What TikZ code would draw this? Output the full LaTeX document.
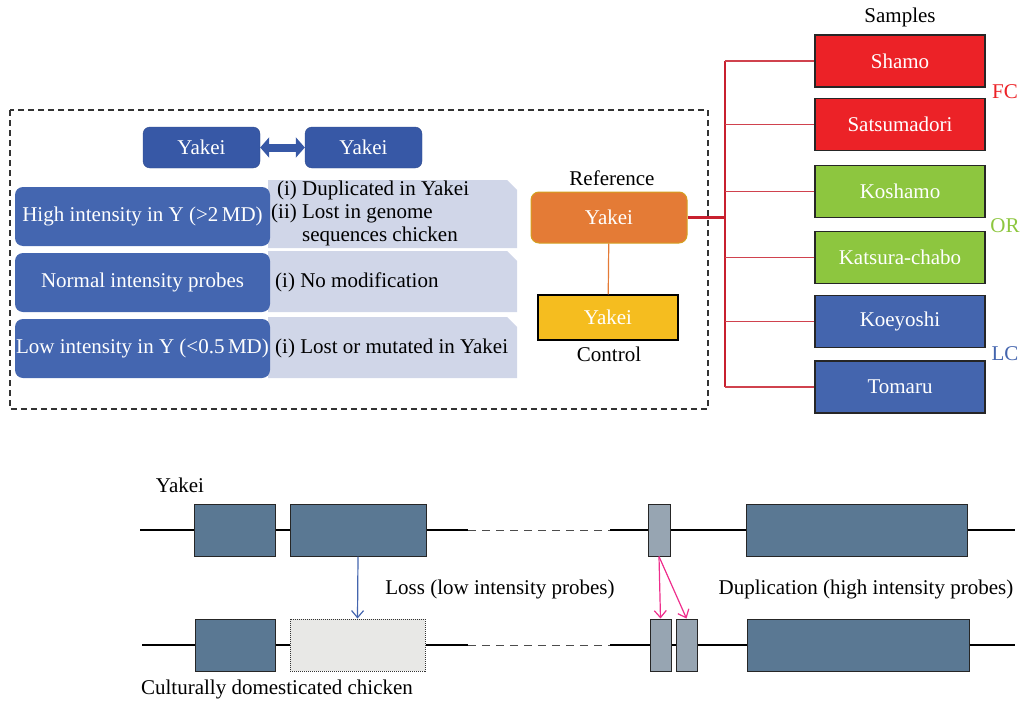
\documentclass[tikz,border=0pt]{standalone}
\usepackage{fontspec}
\setmainfont{Liberation Serif}
\usepackage{xcolor}
\usetikzlibrary{arrows.meta}

\definecolor{yakeiblue}{HTML}{3758A6}
\definecolor{rowblue}{HTML}{4466B0}
\definecolor{notegray}{HTML}{D0D6E8}
\definecolor{refornage}{HTML}{E47B36}
\definecolor{refborder}{HTML}{D4A020}
\definecolor{ctlyellow}{HTML}{F5BD1F}
\definecolor{fcred}{HTML}{EC2227}
\definecolor{orgreen}{HTML}{8DC63F}
\definecolor{lcblue}{HTML}{4465AE}
\definecolor{treered}{HTML}{C8202F}
\definecolor{genecol}{HTML}{5A7893}
\definecolor{smallgene}{HTML}{97A5B2}
\definecolor{lostgene}{HTML}{E8E8E6}
\definecolor{dupink}{HTML}{EE2E8C}

\begin{document}
\begin{tikzpicture}[x=1pt,y=-1pt, font=\fontsize{21}{23}\selectfont,
  yakeibox/.style={rounded corners=7pt, fill=yakeiblue, draw=yakeiblue!85!black, text=white,
    minimum width=117pt, minimum height=41pt, inner sep=0pt},
  rowbox/.style={rounded corners=8pt, fill=rowblue, text=white,
    minimum width=255pt, minimum height=59pt, inner sep=0pt},
  sample/.style={draw=black!85, line width=1.5pt, text=white,
    minimum width=170pt, minimum height=52pt, inner sep=0pt},
  gene/.style={draw=black!85, line width=1pt, fill=genecol, minimum height=52pt, inner sep=0pt},
  strand/.style={line width=2pt, black},
  gap/.style={line width=1pt, black!70, dash pattern=on 8pt off 6pt},
  branch/.style={line width=1.5pt, treered!85!white}]
\useasboundingbox (0,0) rectangle (1020,701);

% frame round the probe classes
\draw[line width=1.2pt, black!80, dash pattern=on 6pt off 4pt] (10,110) rectangle (708,409);

\node[yakeibox] (yk1) at (201.5,147.5) {Yakei};
\node[yakeibox] (yk2) at (363.5,147.5) {Yakei};
\draw[{Triangle[width=20pt,length=9pt]}-{Triangle[width=20pt,length=9pt]}, line width=8pt, yakeiblue]
  (yk1) -- (yk2);

% notes behind the classes
\fill[notegray] (268,180) -- (507,180) -- (517,190) -- (517,248) -- (268,248) -- cycle;
\fill[notegray] (268,251) -- (507,251) -- (517,261) -- (517,312) -- (268,312) -- cycle;
\fill[notegray] (268,317) -- (507,317) -- (517,327) -- (517,378) -- (268,378) -- cycle;

\node[rowbox] (high) at (142.5,216.5) {High intensity in Y (>2\,MD)};
\node[rowbox] (norm) at (142.5,282.5) {Normal intensity probes};
\node[rowbox] (low) at (142.5,348.5) {Low intensity in Y (<0.5\,MD)};

\node[anchor=west, inner sep=0pt, align=left] (n1) at (271,214)
  {\begin{tabular}{@{}r@{ }l@{}}(i)&Duplicated in Yakei\\(ii)&Lost in genome\\&sequences chicken\end{tabular}};
\node[anchor=west, inner sep=0pt] (n2) at (275,282) {(i) No modification};
\node[anchor=west, inner sep=0pt] (n3) at (275,348) {(i) Lost or mutated in Yakei};

% reference and control
\node[rounded corners=8pt, fill=refornage, draw=refborder, line width=1pt, text=white,
  minimum width=156pt, minimum height=51pt, inner sep=0pt] (ref) at (609,217.5) {Yakei};
\node (reflab) at (612,178) {Reference};
\node[fill=ctlyellow, draw=black, line width=1.5pt, text=white,
  minimum width=140pt, minimum height=45pt, inner sep=0pt] (ctl) at (608,317.5) {Yakei};
\node (ctllab) at (609,354) {Control};
\draw[line width=1.2pt, refornage] (ref) -- (ctl);

% samples
\node (samlab) at (900,17) {Samples};
\node[sample, fill=fcred] (sham) at (900,61) {Shamo};
\node[sample, fill=fcred] (sats) at (900,124.5) {Satsumadori};
\node[sample, fill=orgreen] (kosh) at (900,191.5) {Koshamo};
\node[sample, fill=orgreen] (kats) at (900,257.5) {Katsura-chabo};
\node[sample, fill=lcblue] (koey) at (900,321.5) {Koeyoshi};
\node[sample, fill=lcblue] (toma) at (900,387) {Tomaru};
\node[text=fcred] (fc) at (1005,92) {FC};
\node[text=orgreen] (or) at (1005,226) {OR};
\node[text=lcblue] (lc) at (1005,354) {LC};

\coordinate (trunk) at (725,217.5);
\draw[line width=3pt, treered] (ref.east) -- (trunk);
\draw[line width=2pt, treered] (trunk |- sham.west) -- (trunk |- toma.west);
\foreach \s in {sham,sats,kosh,kats,koey,toma}
  \draw[branch] (trunk |- \s.west) -- (\s.west);

% Yakei strand
\node (yklab) at (180,485) {Yakei};
\node[gene, minimum width=81pt] (g1) at (234.5,530) {};
\node[gene, minimum width=136pt] (g2) at (358,530) {};
\node[gene, fill=smallgene, minimum width=22pt] (g3) at (659,530) {};
\node[gene, minimum width=221pt] (g4) at (856.5,530) {};
\coordinate (ya) at (140,530);
\coordinate (yd1) at (468,530);
\coordinate (yd2) at (610,530);
\coordinate (yb) at (1015,530);
\draw[strand] (ya) -- (g1.west) (g1.east) -- (g2.west) (g2.east) -- (yd1)
  (yd2) -- (g3.west) (g3.east) -- (g4.west) (g4.east) -- (yb);
\draw[gap] (yd1) -- (yd2);

% domesticated strand
\node[gene, minimum width=80pt] (h1) at (235,645) {};
\node[draw=black!80, line width=1pt, densely dotted, fill=lostgene, minimum width=135pt,
  minimum height=52pt, inner sep=0pt] (h2) at (357.5,645) {};
\node[gene, fill=smallgene, minimum width=21pt] (h3a) at (660.5,645) {};
\node[gene, fill=smallgene, minimum width=21pt] (h3b) at (686.5,645) {};
\node[gene, minimum width=222pt] (h4) at (858,645) {};
\coordinate (ca) at (142,645);
\coordinate (cd1) at (468,645);
\coordinate (cd2) at (610,645);
\coordinate (cb) at (1015,645);
\draw[strand] (ca) -- (h1.west) (h1.east) -- (h2.west) (h2.east) -- (cd1)
  (cd2) -- (h3a.west) (h3a.east) -- (h3b.west) (h3b.east) -- (h4.west) (h4.east) -- (cb);
\draw[gap] (cd1) -- (cd2);
\node (cdlab) at (277,689) {Culturally domesticated chicken};

% loss and duplication
\draw[-{Straight Barb[length=7pt,width=12pt]}, line width=1.2pt, lcblue] (g2.south) -- (h2.north);
\node (losslab) at (500,589) {Loss (low intensity probes)};
\draw[-{Straight Barb[length=7pt,width=12pt]}, line width=1.2pt, dupink] (g3.south) -- (h3a.north);
\draw[-{Straight Barb[length=7pt,width=12pt]}, line width=1.2pt, dupink] (g3.south) -- (h3b.north);
\node (duplab) at (866,589) {Duplication (high intensity probes)};

\end{tikzpicture}
\end{document}
